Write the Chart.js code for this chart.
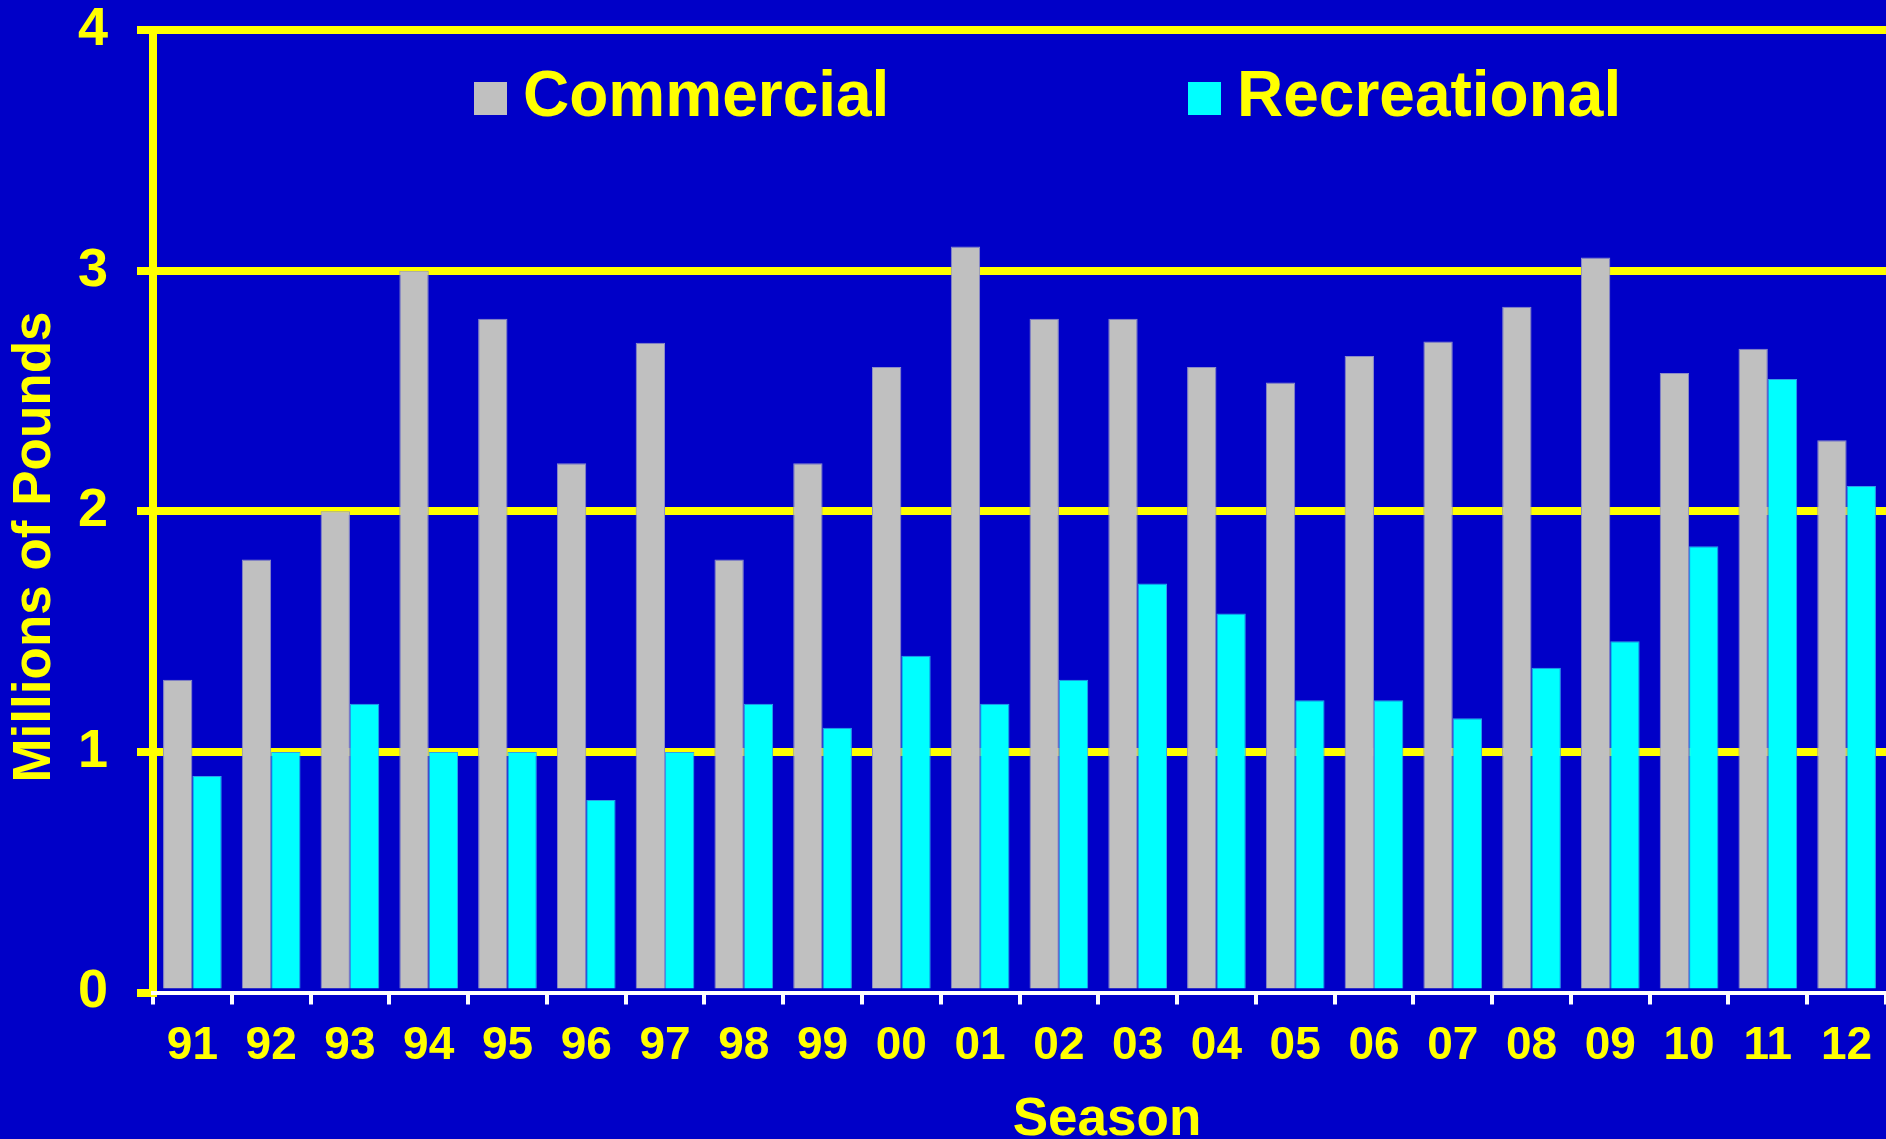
<!DOCTYPE html>
<html>
<head>
<meta charset="utf-8">
<title>Season landings</title>
<script src="https://cdn.jsdelivr.net/npm/chart.js@4/dist/chart.umd.min.js"></script>
<style>
  html, body { margin: 0; padding: 0; background: #0000C8; }
  canvas { display: block; }
</style>
</head>
<body>
<canvas id="seasonChart" width="1886" height="1139"></canvas>
<script>
// Values (millions of pounds)
const seasons = ["91", "92", "93", "94", "95", "96", "97", "98", "99", "00", "01",
                 "02", "03", "04", "05", "06", "07", "08", "09", "10", "11", "12"];
const commercial = [1.30, 1.80, 2.00, 3.00, 2.80, 2.20, 2.70, 1.80, 2.20, 2.60, 3.10,
                    2.80, 2.80, 2.60, 2.535, 2.645, 2.705, 2.85, 3.055, 2.575, 2.675, 2.295];
const recreational = [0.90, 1.00, 1.20, 1.00, 1.00, 0.80, 1.00, 1.20, 1.10, 1.40, 1.20,
                      1.30, 1.70, 1.575, 1.215, 1.215, 1.14, 1.35, 1.46, 1.855, 2.55, 2.105];
const yMin = 0;
const yMax = 4;
const yStep = 1;

const YELLOW = "#FFFF00";
const FONT = "'Liberation Sans', Arial, sans-serif";

// legend and axis titles drawn by hand so they sit where the original has them
const extraText = {
    id: "extraText",
    afterDraw(chart) {
        const ctx = chart.ctx;
        const area = chart.chartArea;
        ctx.save();
        ctx.fillStyle = YELLOW;
        ctx.textBaseline = "middle";

        // legend
        const legendX = [area.left + 321, area.left + 1035];
        ctx.font = "bold 64px " + FONT;
        chart.data.datasets.forEach((ds, i) => {
            ctx.fillStyle = ds.backgroundColor;
            ctx.fillRect(legendX[i], 82, 33, 33);
            ctx.fillStyle = YELLOW;
            ctx.textAlign = "left";
            ctx.fillText(ds.label, legendX[i] + 49, 98);
        });

        // y axis title
        ctx.font = "bold 53px " + FONT;
        ctx.save();
        ctx.translate(35, 547);
        ctx.rotate(-Math.PI / 2);
        ctx.textAlign = "center";
        ctx.fillText("Millions of Pounds", 0, 0);
        ctx.restore();

        // x axis title
        ctx.textAlign = "center";
        ctx.textBaseline = "alphabetic";
        ctx.fillText("Season", 1107, 1135);
        ctx.restore();
    }
};

const ctx = document.getElementById("seasonChart").getContext("2d");
const seasonChart = new Chart(ctx, {
    type: "bar",
    data: {
        labels: seasons,
        datasets: [{
            label: "Commercial",
            data: commercial,
            backgroundColor: "#C0C0C0",
            borderColor: "#8C8CC8",
            borderWidth: 1,
            categoryPercentage: 0.745,
            barPercentage: 1.0
        }, {
            label: "Recreational",
            data: recreational,
            backgroundColor: "#00FFFF",
            borderColor: "#30A0E8",
            borderWidth: 1,
            categoryPercentage: 0.745,
            barPercentage: 1.0
        }]
    },
    options: {
        responsive: false,
        animation: false,
        devicePixelRatio: 1,
        layout: {
            padding: { top: 30, right: 0, bottom: 0, left: 0 }
        },
        plugins: {
            legend: { display: false },
            tooltip: { enabled: false }
        },
        scales: {
            x: {
                afterFit: (scale) => {
                    scale.height = 146.5;
                    scale.paddingLeft = 0;
                    scale.paddingRight = 0;
                },
                grid: {
                    offset: true,
                    drawOnChartArea: false,
                    color: "#FFFFFF",
                    lineWidth: 4,
                    tickLength: 12
                },
                border: { color: "#FFFFFF", width: 4, z: 1 },
                ticks: {
                    color: YELLOW,
                    font: { family: FONT, size: 46, weight: "bold" },
                    padding: 14,
                    maxRotation: 0,
                    autoSkip: false
                }
            },
            y: {
                min: yMin,
                max: yMax,
                afterFit: (scale) => {
                    scale.width = 153;
                    // let the top label hang above the plot like the original
                    scale.paddingTop = 0;
                    scale.paddingBottom = 0;
                },
                grid: {
                    color: (c) => (c.tick && c.tick.value === 0 ? "rgba(0,0,0,0)" : YELLOW),
                    tickColor: YELLOW,
                    lineWidth: 8,
                    tickLength: 16
                },
                border: { color: YELLOW, width: 8 },
                ticks: {
                    stepSize: yStep,
                    color: YELLOW,
                    font: { family: FONT, size: 54, weight: "bold" },
                    padding: 29
                }
            }
        }
    },
    plugins: [extraText]
});
</script>
</body>
</html>
